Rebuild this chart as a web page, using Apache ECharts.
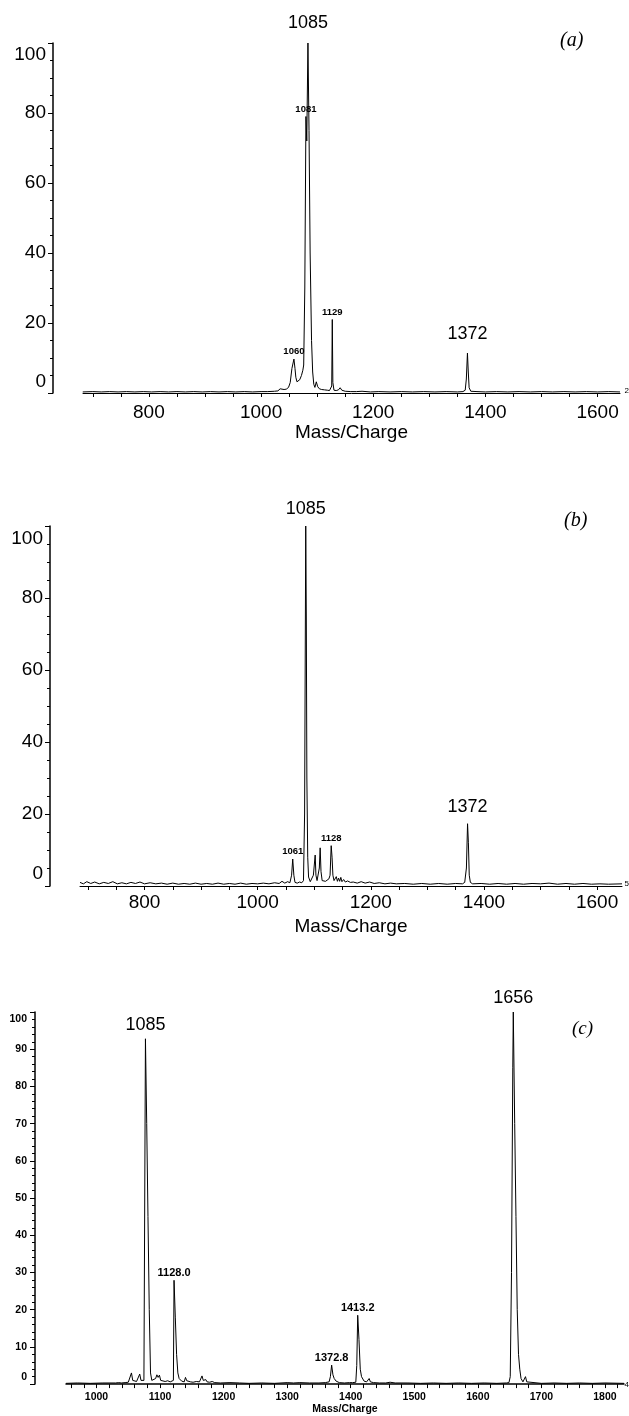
<!DOCTYPE html>
<html>
<head>
<meta charset="utf-8">
<script src="https://cdn.jsdelivr.net/npm/echarts@6/dist/echarts.min.js"></script>
<style>
  html, body { margin: 0; padding: 0; background: #fff; }
  #spectra { width: 629px; height: 1416px; }
</style>
</head>
<body>
<div id="spectra"></div>
<script>
// spectrum (a): [m/z, relative intensity %]
const specA = [
  [682,0.3],[700,0.4],[715,0.3],[730,0.4],[745,0.3],[760,0.4],[775,0.3],[790,0.4],[805,0.3],[820,0.4],
  [835,0.3],[850,0.4],[865,0.3],[880,0.4],[895,0.3],[910,0.4],[925,0.3],[940,0.4],[955,0.3],[970,0.4],
  [985,0.3],[1000,0.4],[1012,0.4],[1024,0.5],[1030,0.6],[1034,1.2],[1037,0.9],[1041,1.0],[1045,1.1],
  [1049,1.6],[1052,3],[1055,7],[1058.6,9.7],[1060.5,7],[1062,4.5],[1064,3.2],[1066,3],[1069,3.8],
  [1072,5],[1074.5,6.5],[1076,8],[1078,30],[1080,79],[1081.5,72],[1083.6,100],[1085.5,75],[1087.5,40],
  [1090,15],[1092,6],[1094,2.5],[1096,1.6],[1098.5,3.2],[1101,1.8],[1104,1.2],[1108,1.0],[1113,0.9],
  [1118,0.8],[1122,0.7],[1125,0.8],[1126,2],[1127,21],[1128,3],[1130,0.8],[1134,0.7],[1138,0.9],
  [1141,1.5],[1144,0.8],[1150,0.5],[1160,0.4],[1170,0.4],[1180,0.5],[1195,0.3],[1210,0.4],[1230,0.3],
  [1250,0.4],[1270,0.3],[1290,0.4],[1310,0.3],[1330,0.4],[1350,0.3],[1360,0.4],[1364,0.8],[1366,4],
  [1368,11.4],[1369.5,6],[1371,1.5],[1374,0.5],[1385,0.4],[1400,0.3],[1420,0.4],[1440,0.3],[1460,0.4],
  [1480,0.3],[1500,0.4],[1520,0.3],[1540,0.4],[1560,0.3],[1580,0.4],[1600,0.3],[1620,0.4],[1640,0.3]
];

// spectrum (b)
const specB = [
  [686,1.0],[692,0.6],[698,1.2],[705,0.7],[712,1.1],[720,0.6],[728,1.0],[736,0.7],[744,1.2],[752,0.6],
  [760,0.9],[768,0.6],[776,1.0],[784,0.7],[792,1.1],[800,0.6],[810,0.9],[820,0.6],[830,0.8],[840,0.5],
  [850,0.8],[860,0.5],[870,0.7],[880,0.5],[890,0.8],[900,0.5],[910,0.7],[920,0.5],[930,0.8],[940,0.5],
  [950,0.7],[960,0.5],[970,0.8],[980,0.5],[990,0.7],[1000,0.6],[1010,0.8],[1020,0.6],[1030,0.9],
  [1038,0.7],[1043,1.3],[1048,0.8],[1053,1.2],[1057,0.9],[1060,3],[1062,7.5],[1064,3],[1066,1],
  [1070,0.8],[1074,1.1],[1078,0.9],[1081,1.5],[1083,20],[1084,60],[1085,100],[1086,75],[1087,30],
  [1088.5,8],[1090,2.5],[1093,1.2],[1096,1.5],[1098.5,3],[1101.7,8.6],[1103,3],[1105,1.5],[1107,2],
  [1109,5],[1110.5,10.6],[1112,4],[1114,1.5],[1117,1],[1120,1.3],[1123,1],[1126,2],[1128,3],
  [1130,11.2],[1131.5,8],[1133,3],[1135,1.5],[1137,1.2],[1139,2.6],[1141,1.3],[1143,2.2],[1145,1.3],
  [1147,2.4],[1149,1.2],[1152,1.8],[1155,1.1],[1159,1.4],[1164,1],[1169,1.1],[1176,0.8],[1183,1.2],
  [1190,0.8],[1198,1.1],[1206,0.7],[1215,0.9],[1225,0.6],[1235,0.8],[1245,0.6],[1260,0.7],[1275,0.5],
  [1290,0.7],[1305,0.5],[1320,0.7],[1335,0.5],[1350,0.7],[1362,0.6],[1366,1],[1369,5],[1371,17.3],
  [1372.5,12],[1374,3],[1376,1],[1380,0.6],[1395,0.7],[1410,0.5],[1425,0.7],[1440,0.5],[1455,0.7],
  [1470,0.5],[1485,0.7],[1500,0.6],[1515,0.8],[1530,0.5],[1545,0.7],[1560,0.5],[1575,0.7],[1590,0.5],
  [1605,0.6],[1620,0.5],[1644,0.6]
];

// spectrum (c)
const specC = [
  [952,0.2],[970,0.3],[990,0.2],[1010,0.3],[1030,0.3],[1035,0.4],[1037,0.9],[1039,0.3],[1045,0.4],
  [1050,0.5],[1053,0.6],[1055,3],[1057,1],[1060,0.6],[1063,0.7],[1066,0.8],[1068,2.7],[1070,1.0],
  [1073,0.6],[1074.6,1],[1077,92.8],[1079,70],[1081,45],[1083,20],[1085,3],[1087,1],[1090,0.8],
  [1093,1.5],[1095,2.5],[1097,1.8],[1099,2.4],[1101,1],[1104,0.8],[1108,0.7],[1112,0.9],[1116,0.6],
  [1119,0.7],[1121,1],[1122,27.9],[1124,18],[1126,8],[1128,3],[1130,1.5],[1132,1.3],[1134,0.8],
  [1136,1.2],[1138,0.6],[1140,1.8],[1142,0.9],[1145,1.3],[1148,0.6],[1152,0.5],[1157,0.7],[1162,0.6],
  [1164,1],[1166,2.2],[1168,1],[1170,0.8],[1172,1.2],[1174,0.6],[1178,0.5],[1182,0.7],[1186,0.4],
  [1195,0.3],[1210,0.4],[1225,0.3],[1240,0.2],[1260,0.3],[1280,0.2],[1300,0.4],[1310,0.3],[1320,0.4],
  [1335,0.3],[1350,0.3],[1360,0.4],[1366,0.6],[1368,2],[1370,5.1],[1372,2.5],[1374,1.5],[1377,0.8],
  [1382,0.4],[1390,0.3],[1398,0.4],[1400.5,0.9],[1403,0.4],[1408,0.5],[1409.5,5],[1411,18.5],
  [1413,12],[1415,4],[1417,2],[1419,1.8],[1421,0.8],[1425,0.6],[1429,1.5],[1431,0.6],[1436,0.4],
  [1445,0.3],[1455,0.3],[1462,0.5],[1465,0.5],[1470,0.3],[1490,0.3],[1510,0.2],[1530,0.3],[1550,0.2],
  [1570,0.3],[1590,0.2],[1610,0.3],[1630,0.2],[1645,0.3],[1649,0.4],[1651,2],[1653,30],[1655,85],
  [1655.8,100],[1658,70],[1660,45],[1662,20],[1664,8],[1666,4],[1668,1.5],[1671,0.6],[1674,0.8],
  [1675,2],[1677,0.6],[1680,0.3],[1700,0.2],[1720,0.3],[1740,0.2],[1760,0.3],[1780,0.2],[1800,0.3],
  [1830,0.2]
];

// peak annotations: [m/z, intensity, text]
const bigLabelsA = [[1083.6, 100, '1085'], [1368, 11.4, '1372']];
const smallLabelsA = [[1080, 79, '1081'], [1127, 21, '1129'], [1058.6, 9.7, '1060']];
const bigLabelsB = [[1085, 100, '1085'], [1371, 17.3, '1372']];
const smallLabelsB = [[1062, 7.5, '1061'], [1130, 11.2, '1128']];
const bigLabelsC = [[1077, 92.8, '1085'], [1655.8, 100, '1656']];
const smallLabelsC = [[1122, 27.9, '1128.0'], [1370, 5.1, '1372.8'], [1411, 18.5, '1413.2']];

// x tick labels and tick marks
const xLabelsAB = [800, 1000, 1200, 1400, 1600];
const xTicksAB = [700, 750, 800, 850, 900, 950, 1000, 1050, 1100, 1150, 1200, 1250, 1300, 1350, 1400, 1450, 1500, 1550, 1600];
const xLabelsC = [1000, 1100, 1200, 1300, 1400, 1500, 1600, 1700, 1800];
const xTicksC = [960, 980, 1000, 1020, 1040, 1060, 1080, 1100, 1120, 1140, 1160, 1180, 1200, 1220, 1240, 1260, 1280,
  1300, 1320, 1340, 1360, 1380, 1400, 1420, 1440, 1460, 1480, 1500, 1520, 1540, 1560, 1580, 1600, 1620, 1640,
  1660, 1680, 1700, 1720, 1740, 1760, 1780, 1800, 1820];

const SANS = "'Liberation Sans', Arial, sans-serif";
const INK = '#000';

const chart = echarts.init(document.getElementById('spectra'), null, { renderer: 'canvas' });

// per-panel layout
const panels = [
  { grid: { left: 83, top: 43, width: 537, height: 350 }, min: 682.5, max: 1640, labels: xLabelsAB, ticks: xTicksAB,
    yInterval: 20, ySplit: 4, yFont: 19, yBold: 'normal', yLine: 23, yOffset: 30, yMargin: 7,
    xFont: 19, xBold: 'normal', xMargin: 10, nameGap: 29, nameFont: 19, nameBold: 'normal',
    spec: specA, big: bigLabelsA, small: smallLabelsA, bigDist: 10, smallDist: 2, smallFont: 9.5, bigFont: 18 },
  { grid: { left: 80, top: 526, width: 542, height: 360 }, min: 686, max: 1644, labels: xLabelsAB, ticks: xTicksAB,
    yInterval: 20, ySplit: 4, yFont: 19, yBold: 'normal', yLine: 25, yOffset: 30, yMargin: 7,
    xFont: 19, xBold: 'normal', xMargin: 7, nameGap: 31, nameFont: 19, nameBold: 'normal',
    spec: specB, big: bigLabelsB, small: smallLabelsB, bigDist: 7, smallDist: 2, smallFont: 9.5, bigFont: 18 },
  { grid: { left: 66, top: 1012, width: 558, height: 373 }, min: 952, max: 1830, labels: xLabelsC, ticks: xTicksC,
    yInterval: 10, ySplit: 5, yFont: 10.5, yBold: 'bold', yLine: 14, yOffset: 31, yMargin: 8,
    xFont: 10.5, xBold: 'bold', xMargin: 8, nameGap: 19, nameFont: 10.5, nameBold: 'bold',
    spec: specC, big: bigLabelsC, small: smallLabelsC, bigDist: 4, smallDist: 1, smallFont: 11, bigFont: 18 }
];

const grids = [], xAxes = [], yAxes = [], series = [];

panels.forEach((p, i) => {
  grids.push(p.grid);

  xAxes.push({
    type: 'value', gridIndex: i, min: p.min, max: p.max,
    axisLine: { onZero: false, lineStyle: { color: INK, width: i === 2 ? 1.5 : 1 } },
    axisTick: { show: true, customValues: p.ticks, length: 4, lineStyle: { color: INK } },
    axisLabel: { customValues: p.labels, margin: p.xMargin, fontSize: p.xFont, fontWeight: p.xBold,
      color: INK, fontFamily: SANS, formatter: v => String(v) },
    splitLine: { show: false },
    name: 'Mass/Charge', nameLocation: 'middle', nameGap: p.nameGap,
    nameTextStyle: { fontSize: p.nameFont, fontWeight: p.nameBold, color: INK, fontFamily: SANS }
  });

  yAxes.push({
    type: 'value', gridIndex: i, min: 0, max: 100, interval: p.yInterval, offset: p.yOffset,
    axisLine: { show: true, lineStyle: { color: INK, width: 1.5 } },
    axisTick: { show: true, length: 5, lineStyle: { color: INK } },
    minorTick: { show: true, splitNumber: p.ySplit, length: 3, lineStyle: { color: INK } },
    axisLabel: {
      margin: p.yMargin, fontSize: p.yFont, fontWeight: p.yBold, color: INK, fontFamily: SANS,
      lineHeight: p.yLine,
      // end labels sit inside the bracket, nudged toward the middle of the axis
      formatter: v => v === 100 ? '\n100' : v === 0 ? '0\n' : String(v)
    },
    splitLine: { show: false }
  });

  series.push({
    type: 'line', xAxisIndex: i, yAxisIndex: i, data: p.spec,
    symbol: 'none', lineStyle: { color: INK, width: 1 }, silent: true
  });

  series.push({
    type: 'scatter', xAxisIndex: i, yAxisIndex: i, symbolSize: 1, silent: true,
    itemStyle: { color: 'rgba(0,0,0,0)' },
    data: p.big.map(d => ({ value: [d[0], d[1]], name: d[2] })),
    label: { show: true, position: 'top', distance: p.bigDist, formatter: '{b}', opacity: 1,
      fontSize: p.bigFont, color: INK, fontFamily: SANS }
  });

  series.push({
    type: 'scatter', xAxisIndex: i, yAxisIndex: i, symbolSize: 1, silent: true,
    itemStyle: { color: 'rgba(0,0,0,0)' },
    data: p.small.map(d => ({ value: [d[0], d[1]], name: d[2] })),
    label: { show: true, position: 'top', distance: p.smallDist, formatter: '{b}', opacity: 1,
      fontSize: p.smallFont, fontWeight: 'bold', color: INK, fontFamily: SANS }
  });
});

const panelTag = (text, left, top, size) => ({
  type: 'text', left, top,
  style: { text, font: `italic ${size}px 'Liberation Serif', 'Times New Roman', serif`, fill: INK }
});
const edgeMark = (text, top) => ({
  type: 'text', right: 0, top,
  style: { text, font: `8px ${SANS}`, fill: INK }
});

chart.setOption({
  animation: false,
  backgroundColor: '#fff',
  grid: grids,
  xAxis: xAxes,
  yAxis: yAxes,
  series,
  graphic: [
    panelTag('(a)', 560, 31, 20),
    panelTag('(b)', 564, 511, 20),
    panelTag('(c)', 572, 1019, 19),
    edgeMark('2', 387),
    edgeMark('5', 880),
    edgeMark('4', 1381)
  ]
});
</script>
</body>
</html>
